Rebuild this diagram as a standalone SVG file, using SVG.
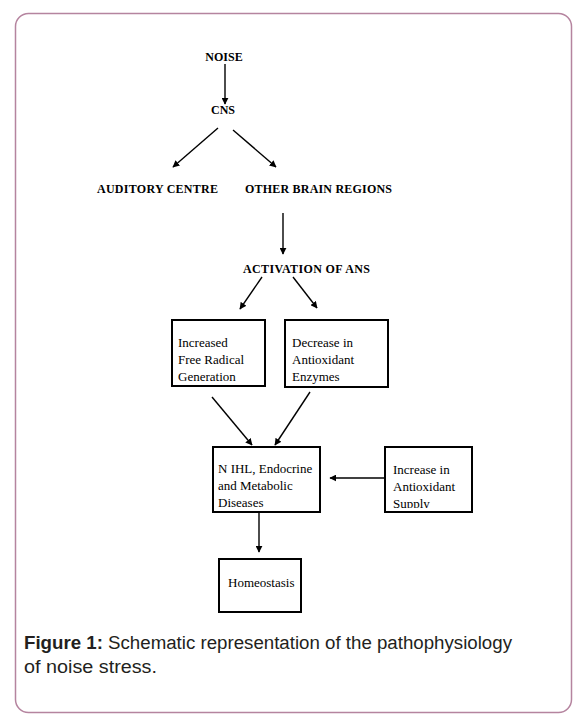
<svg xmlns="http://www.w3.org/2000/svg" width="582" height="723" viewBox="0 0 582 723">
<style>
.lbl{font-family:"Liberation Serif","Times New Roman",serif;font-size:12px;font-weight:bold;fill:#000}
.box{fill:#fff;stroke:#000;stroke-width:2}
.bt{font-family:"Liberation Serif","Times New Roman",serif;font-size:13px;fill:#000}
.conn{stroke:#000;stroke-width:1.4;fill:none;marker-end:url(#ah)}
.cap{font-family:"Liberation Sans",Arial,sans-serif;font-size:18px;fill:#231f20}
</style>
<defs>
<marker id="ah" viewBox="0 0 10 10" refX="9" refY="5" markerWidth="7" markerHeight="7" markerUnits="userSpaceOnUse" orient="auto">
<path d="M0,0 L10,5 L0,10 z" fill="#000"/>
</marker>
<clipPath id="clipSupply"><rect x="386" y="448" width="85" height="60"/></clipPath>
</defs>
<rect x="15.5" y="13.5" width="556" height="699" rx="13" ry="13" fill="#fff" stroke="#b5849f" stroke-width="1.5"/>

<g id="connectors">
<line class="conn" x1="225" y1="64" x2="225" y2="104"/>
<line class="conn" x1="218" y1="128" x2="173" y2="167"/>
<line class="conn" x1="233" y1="130" x2="276" y2="167"/>
<line class="conn" x1="283" y1="213" x2="283" y2="254"/>
<line class="conn" x1="262" y1="277" x2="240" y2="309"/>
<line class="conn" x1="293" y1="277" x2="317" y2="308"/>
<line class="conn" x1="212" y1="397" x2="252" y2="445"/>
<line class="conn" x1="310" y1="392" x2="275" y2="445"/>
<line class="conn" x1="385" y1="478" x2="330" y2="478"/>
<line class="conn" x1="259" y1="513" x2="259" y2="552"/>
</g>

<g id="noise"><text class="lbl" x="224" y="61" text-anchor="middle">NOISE</text></g>
<g id="cns"><text class="lbl" x="223" y="114" text-anchor="middle">CNS</text></g>
<g id="auditory"><text class="lbl" x="97" y="193" textLength="121">AUDITORY CENTRE</text></g>
<g id="other"><text class="lbl" x="245" y="193" textLength="147">OTHER BRAIN REGIONS</text></g>
<g id="ans"><text class="lbl" x="243" y="273" textLength="127">ACTIVATION OF ANS</text></g>

<g id="radical">
<rect class="box" x="172" y="320" width="93" height="66"/>
<text class="bt" x="178" y="347">Increased</text>
<text class="bt" x="178" y="364">Free Radical</text>
<text class="bt" x="178" y="381">Generation</text>
</g>
<g id="decrease">
<rect class="box" x="285" y="320" width="103" height="67"/>
<text class="bt" x="292" y="347">Decrease in</text>
<text class="bt" x="292" y="364">Antioxidant</text>
<text class="bt" x="292" y="381">Enzymes</text>
</g>
<g id="nihl">
<rect class="box" x="213" y="447" width="107" height="65"/>
<text class="bt" x="218" y="473">N IHL, Endocrine</text>
<text class="bt" x="218" y="490">and Metabolic</text>
<text class="bt" x="218" y="507">Diseases</text>
</g>
<g id="supply">
<rect class="box" x="385" y="447" width="87" height="65"/>
<text class="bt" x="393" y="474">Increase in</text>
<text class="bt" x="393" y="491">Antioxidant</text>
<text class="bt" x="393" y="508" clip-path="url(#clipSupply)">Supply</text>
</g>
<g id="homeostasis">
<rect class="box" x="219" y="559" width="82" height="53"/>
<text class="bt" x="228" y="587">Homeostasis</text>
</g>

<g id="caption">
<text class="cap" x="24" y="649" textLength="488" lengthAdjust="spacingAndGlyphs"><tspan font-weight="bold">Figure 1:</tspan> Schematic representation of the pathophysiology</text>
<text class="cap" x="24" y="673" textLength="133" lengthAdjust="spacingAndGlyphs">of noise stress.</text>
</g>
</svg>
